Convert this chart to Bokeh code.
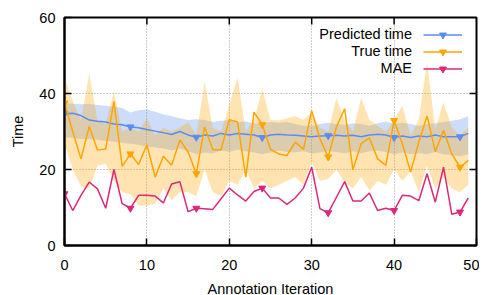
from bokeh.plotting import figure
from bokeh.models import (ColumnDataSource, Legend, LegendItem, Label,
                          Range1d, CDSView, IndexFilter)
from bokeh.embed import file_html
from bokeh.resources import INLINE

# ---------------- data ----------------
iterations = list(range(50))

predicted = [34.7, 34.8, 34.2, 33.0, 32.7, 32.5, 32.0, 31.8, 31.2, 31.0,
             30.5, 30.1, 29.7, 29.2, 30.0, 29.1, 28.5, 29.1, 28.8, 29.5,
             29.1, 29.5, 29.3, 29.1, 28.4, 29.1, 29.3, 29.1, 29.0, 28.8,
             28.6, 28.8, 28.9, 29.0, 28.8, 29.0, 28.6, 29.1, 29.3, 29.1,
             28.4, 28.8, 28.4, 28.8, 28.6, 29.1, 28.6, 28.6, 28.6, 29.5]
pred_upper = [37.5, 37.3, 37.2, 37.3, 37.0, 36.8, 36.5, 36.2, 35.0, 35.6,
              35.8, 35.2, 34.5, 34.0, 33.5, 33.0, 33.2, 33.0, 32.5, 32.8,
              33.0, 32.5, 32.6, 32.2, 32.0, 32.5, 32.3, 32.5, 32.0, 31.5,
              31.5, 32.0, 32.3, 32.0, 31.8, 32.2, 32.0, 31.5, 32.2, 32.6,
              32.0, 32.3, 32.0, 31.5, 32.0, 32.2, 32.5, 32.8, 33.2, 34.0]
pred_lower = [28.5, 28.3, 28.0, 28.0, 27.8, 27.5, 27.3, 27.0, 26.8, 26.5,
              26.0, 25.8, 25.5, 25.0, 25.5, 24.8, 24.0, 24.5, 24.2, 25.0,
              24.6, 25.2, 24.8, 24.5, 24.0, 24.5, 25.0, 24.6, 24.5, 24.8,
              24.2, 24.5, 24.8, 24.6, 24.2, 24.8, 24.3, 24.8, 25.0, 24.6,
              24.0, 24.5, 24.0, 24.3, 24.0, 24.6, 24.0, 23.8, 23.5, 24.0]

true_time = [37.5, 30.0, 22.8, 31.3, 25.1, 25.4, 37.9, 20.8, 24.1, 21.3,
             26.5, 18.0, 23.5, 21.1, 27.8, 24.6, 18.9, 31.2, 25.2, 25.2,
             33.1, 32.5, 18.0, 35.1, 31.8, 25.3, 24.1, 23.7, 27.2, 25.3,
             35.5, 28.1, 23.3, 31.2, 36.0, 19.9, 26.8, 28.3, 22.8, 21.1,
             32.9, 26.8, 19.3, 27.2, 34.1, 24.7, 30.3, 24.1, 20.6, 22.4]
true_upper = [44.3, 38.0, 33.0, 45.2, 33.0, 32.0, 40.6, 30.0, 31.0, 30.0,
              33.5, 29.0, 31.0, 30.0, 31.0, 32.5, 29.0, 43.0, 31.0, 30.0,
              37.0, 44.3, 30.0, 33.0, 41.2, 33.0, 32.9, 33.5, 34.0, 33.0,
              35.1, 31.0, 30.0, 38.8, 33.0, 30.0, 38.8, 33.0, 31.5, 30.0,
              33.0, 36.8, 29.0, 33.0, 48.3, 30.5, 37.7, 31.0, 29.0, 31.0]
true_lower = [27.0, 20.0, 15.5, 15.0, 21.0, 21.5, 17.0, 14.0, 13.5, 10.5,
              10.5, 11.0, 15.0, 12.0, 14.0, 14.0, 13.0, 20.0, 14.0, 13.0,
              17.0, 16.0, 20.0, 15.0, 17.0, 15.0, 16.0, 17.0, 18.0, 16.0,
              22.0, 17.0, 17.5, 20.0, 16.5, 15.0, 18.0, 14.5, 17.0, 16.0,
              20.0, 17.0, 19.5, 14.0, 21.0, 15.0, 18.0, 15.0, 14.0, 16.0]

mae = [13.6, 9.2, 13.2, 16.7, 14.9, 9.8, 20.0, 11.0, 9.8, 13.2,
       13.2, 13.0, 11.2, 16.2, 16.8, 8.9, 9.8, 9.7, 9.5, 12.3,
       15.1, 13.3, 11.7, 14.2, 15.1, 12.5, 12.5, 10.8, 12.5, 15.1,
       20.6, 9.7, 8.6, 12.7, 16.8, 11.7, 11.7, 13.8, 9.2, 9.8,
       9.2, 13.2, 13.0, 11.8, 18.9, 11.4, 20.6, 8.2, 8.8, 12.5]

marker_every = 8
x_ticks = [0, 10, 20, 30, 40, 50]
y_ticks = [0, 20, 40, 60]
series_labels = ["Predicted time", "True time", "MAE"]

# ---------------- styling ----------------
FONT = "Liberation Sans"
FS = "14.5px"
c_pred = "#5b8def"
c_true = "#ffa500"
c_mae = "#dc2878"
FW, FH = 412, 228
TICK = 7
X0, X1, Y0, Y1 = x_ticks[0], x_ticks[-1], y_ticks[0], y_ticks[-1]

source = ColumnDataSource(dict(x=iterations, pred=predicted, pu=pred_upper, pl=pred_lower,
                               tru=true_time, tu=true_upper, tl=true_lower, mae=mae))
mview = CDSView(filter=IndexFilter([i for i in range(len(iterations)) if i % marker_every == 0]))

p = figure(frame_width=FW, frame_height=FH, x_range=Range1d(X0, X1), y_range=Range1d(Y0, Y1),
           output_backend="svg", toolbar_location=None,
           min_border_left=64, min_border_right=3, min_border_top=17, min_border_bottom=55)
p.background_fill_color = "white"
p.border_fill_color = "white"
p.outline_line_color = "black"
p.outline_line_width = 2

# bands
p.varea(x="x", y1="pl", y2="pu", source=source, fill_color="#6495ed", fill_alpha=0.32)
p.varea(x="x", y1="tl", y2="tu", source=source, fill_color="#ffa500", fill_alpha=0.3)

items = []
for col, color, lab in [("pred", c_pred, series_labels[0]),
                        ("tru", c_true, series_labels[1]),
                        ("mae", c_mae, series_labels[2])]:
    lr = p.line("x", col, source=source, line_color=color, line_width=1.5)
    sr = p.scatter("x", col, source=source, view=mview, marker="inverted_triangle",
                   size=7, fill_color=color, line_color=color)
    items.append(LegendItem(label=" ", renderers=[lr, sr]))

legend = Legend(items=items, location=(359, 168.5), glyph_width=39, glyph_height=17,
                label_height=17, label_width=0, label_standoff=0, padding=0, spacing=0,
                margin=0, border_line_color=None, background_fill_alpha=0,
                label_text_font_size="1px")
p.add_layout(legend)

row_y = [211.4, 194.7, 178.0]
for lab, yy in zip(series_labels, row_y):
    p.add_layout(Label(x=347.5, y=yy, x_units="screen", y_units="screen", text=lab,
                       text_align="right", text_baseline="middle",
                       text_font=FONT, text_font_size=FS, text_color="black"))

# mirrored inward ticks on top and right edges
tick_dy = TICK * (Y1 - Y0) / FH
tick_dx = TICK * (X1 - X0) / FW
top_x = x_ticks[1:-1]
right_y = y_ticks[1:-1]
p.segment(x0=top_x, y0=[Y1] * len(top_x), x1=top_x, y1=[Y1 - tick_dy] * len(top_x),
          line_color="black", line_width=1.5)
p.segment(x0=[X1] * len(right_y), y0=right_y, x1=[X1 - tick_dx] * len(right_y), y1=right_y,
          line_color="black", line_width=1.5)

# axes
for ax in (p.xaxis[0], p.yaxis[0]):
    ax.axis_line_width = 2
    ax.axis_line_color = "black"
    ax.major_tick_in = TICK
    ax.major_tick_out = 0
    ax.major_tick_line_color = "black"
    ax.major_tick_line_width = 1.5
    ax.minor_tick_in = 0
    ax.minor_tick_out = 0
    ax.major_label_text_font = FONT
    ax.major_label_text_font_size = FS
    ax.major_label_text_color = "black"
    ax.axis_label_text_font = FONT
    ax.axis_label_text_font_size = FS
    ax.axis_label_text_font_style = "normal"
    ax.axis_label_text_color = "black"

p.xaxis.ticker = x_ticks
p.yaxis.ticker = y_ticks
p.xaxis.axis_label = "Annotation Iteration"
p.yaxis.axis_label = "Time"
p.xaxis.major_label_standoff = 14
p.xaxis.axis_label_standoff = 8
p.yaxis.major_label_standoff = 9
p.yaxis.axis_label_standoff = 10

p.xgrid.ticker = [10, 20, 30, 40]
p.ygrid.ticker = [20, 40]
for g in (p.xgrid[0], p.ygrid[0]):
    g.grid_line_color = "#9a9a9a"
    g.grid_line_dash = "1 2"
    g.grid_line_width = 1

open("out.html", "w").write(file_html(p, INLINE))
